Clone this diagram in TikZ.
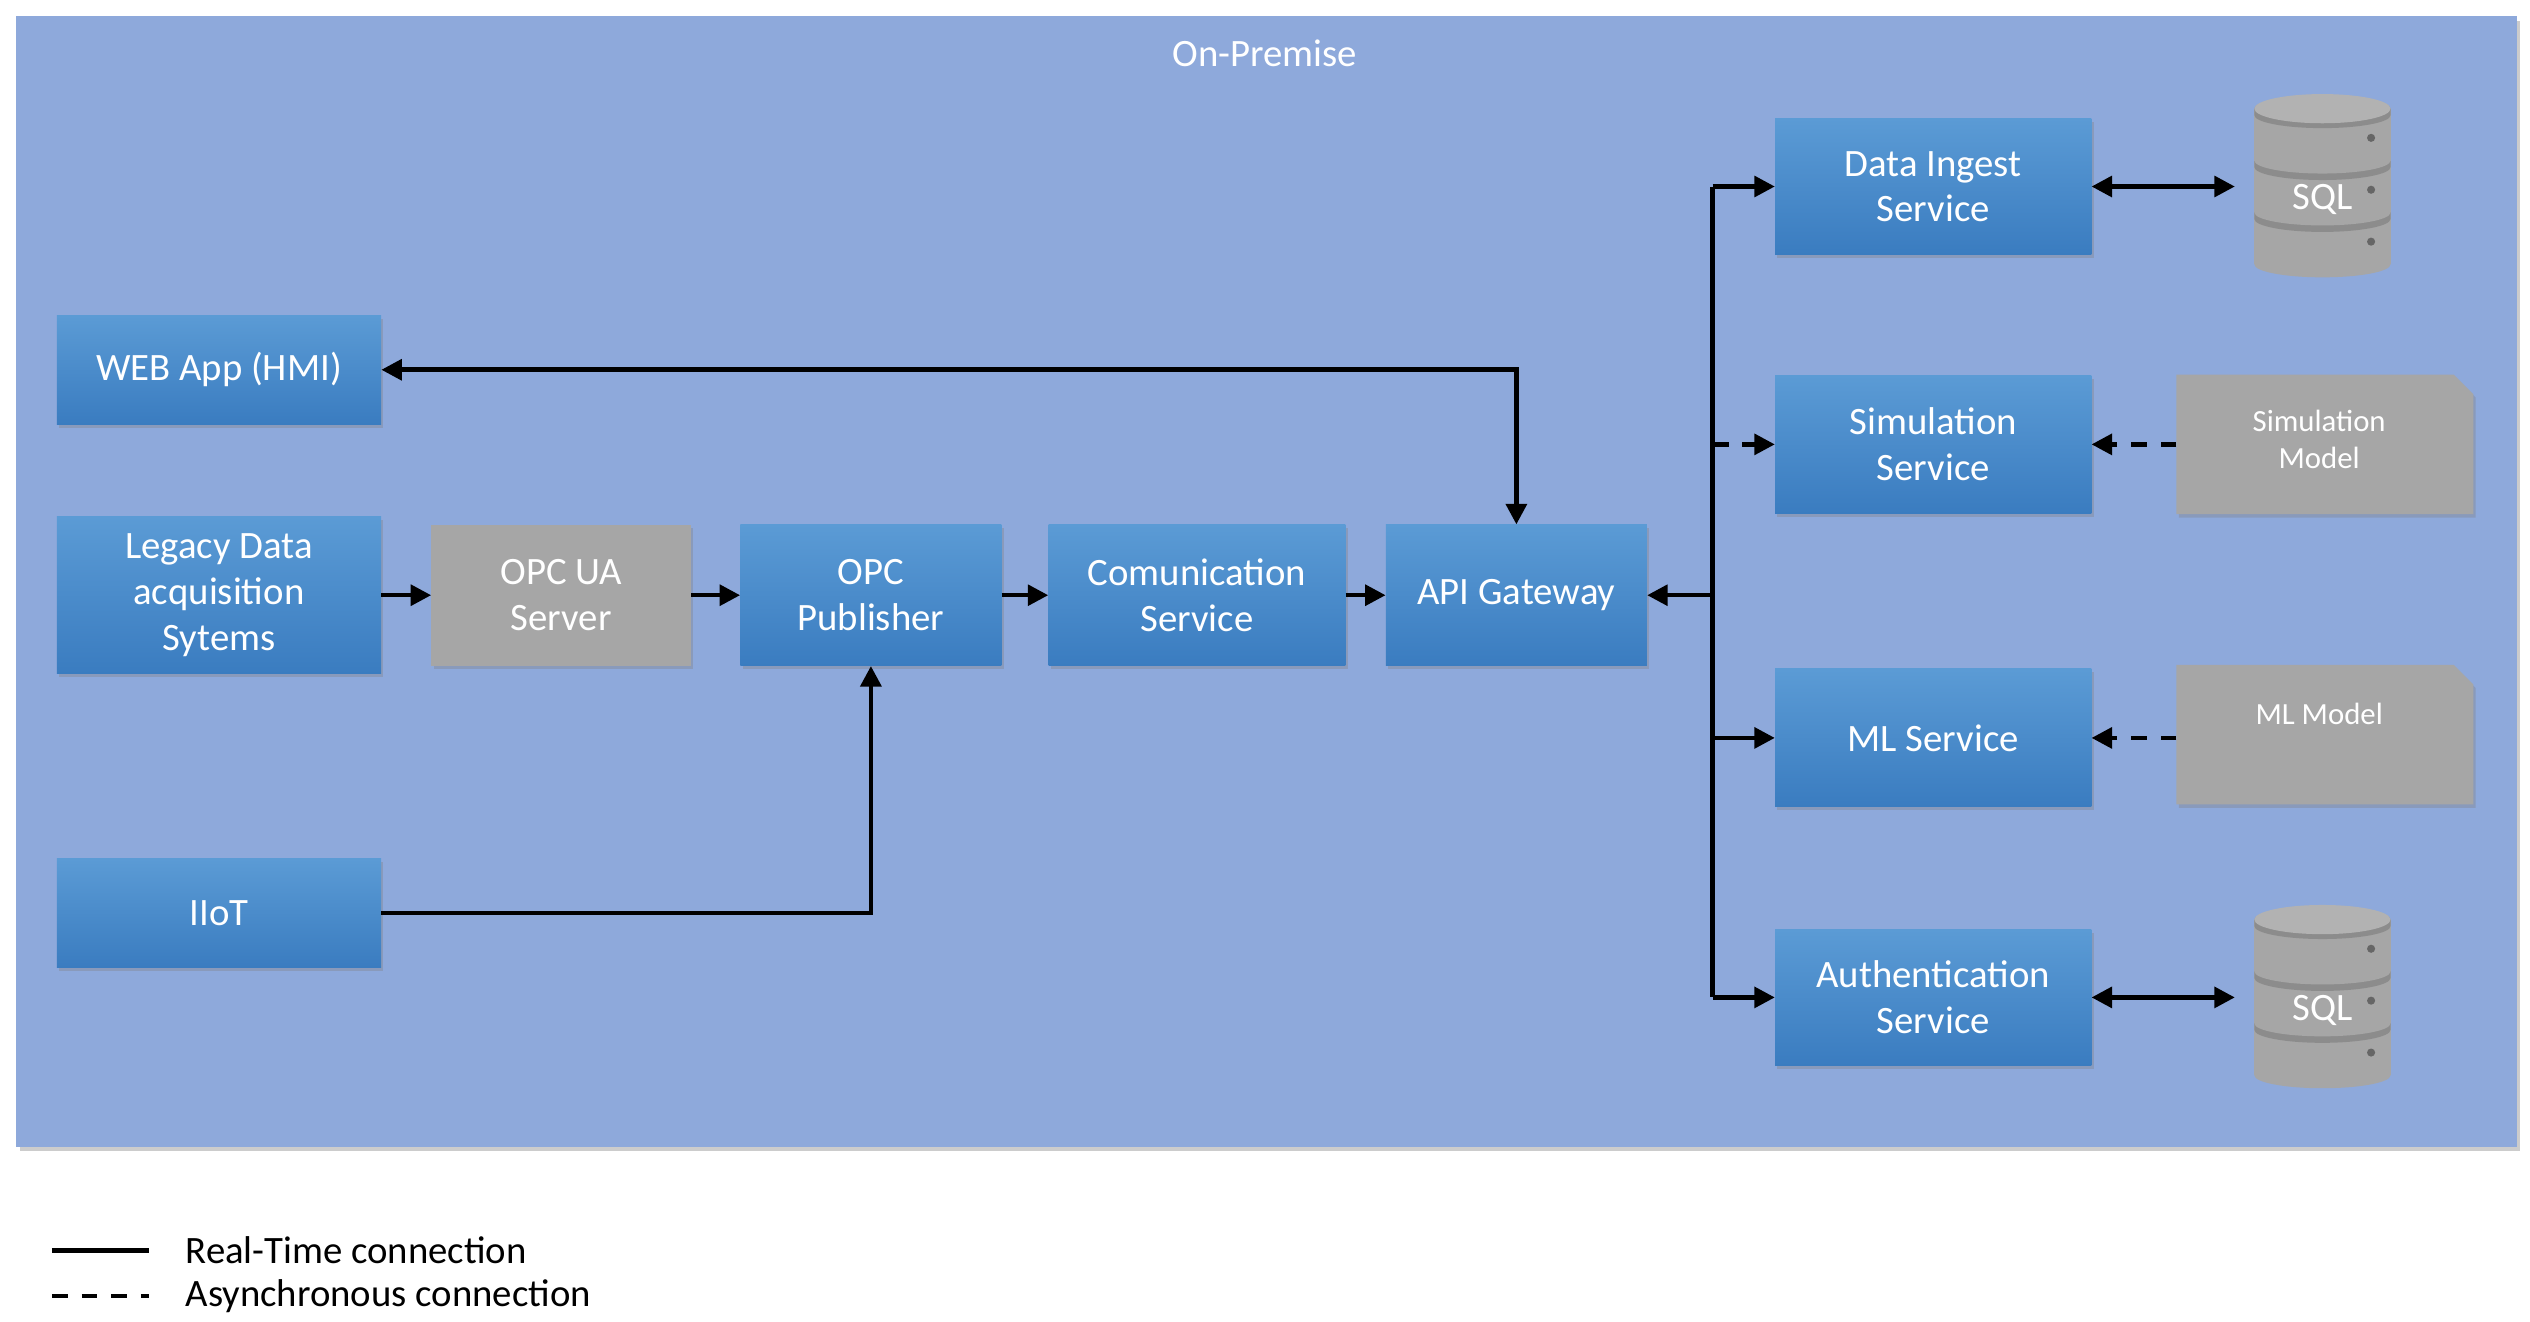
\documentclass[tikz,border=0pt]{standalone}
\usepackage{fontspec}
\setmainfont{Carlito}
\usetikzlibrary{arrows.meta,shapes.geometric,shadows}
\definecolor{bg}{HTML}{8EA9DB}
\definecolor{bt}{HTML}{5B9BD5}
\definecolor{bb}{HTML}{3A7CC0}
\definecolor{gr}{HTML}{A6A6A6}
\begin{document}
\begin{tikzpicture}[x=0.05cm,y=-0.05cm,
 txt/.style={font=\fontsize{34}{40}\selectfont,text=white,align=center},
 stxt/.style={font=\fontsize{27}{33}\selectfont,text=white,align=center},
 blue/.style={txt,draw=none,top color=bt,bottom color=bb,drop shadow={opacity=0.35,shadow xshift=2pt,shadow yshift=-3pt},inner sep=0},
 gray/.style={txt,fill=gr,drop shadow={opacity=0.35,shadow xshift=2pt,shadow yshift=-3pt},inner sep=0},
 tip/.tip={Triangle[length=18pt,width=18pt]},
 ar/.style={line width=4pt,-tip},
 dar/.style={ar,dash pattern=on 14pt off 12pt},
 ln/.style={line width=4pt}]
\useasboundingbox (0,0) rectangle (1560,815);
\fill[white] (0,0) rectangle (1560,815);
\fill[bg,drop shadow={opacity=0.4,shadow xshift=3pt,shadow yshift=-4pt}] (10,10) rectangle (1552,707);
\node[txt] (title) at (780,33) {On-Premise};
\newcommand{\mybx}[6]{\node[#1,minimum width=#4*0.05cm,minimum height=#5*0.05cm] (#6) at (#2,#3) {};}
\mybx{blue}{135}{228}{200}{67}{web}\node[txt] at (web) {WEB App (HMI)};
\mybx{blue}{135}{367}{200}{97}{leg}\node[txt] at (leg) {Legacy Data\\acquisition\\Sytems};
\mybx{gray}{346}{367}{160}{87}{opcua}\node[txt] at (opcua) {OPC UA\\Server};
\mybx{blue}{537}{367}{161}{87}{pub}\node[txt] at (pub) {OPC\\Publisher};
\mybx{blue}{738}{367}{183}{87}{com}\node[txt] at (com) {Comunication\\Service};
\mybx{blue}{935}{367}{161}{87}{api}\node[txt] at (api) {API Gateway};
\mybx{blue}{135}{563}{200}{67}{iiot}\node[txt] at (iiot) {IIoT};
\mybx{blue}{1192}{115}{195}{84}{ing}\node[txt] at (ing) {Data Ingest\\Service};
\mybx{blue}{1192}{274}{195}{85}{sim}\node[txt] at (sim) {Simulation\\Service};
\mybx{blue}{1192}{455}{195}{85}{ml}\node[txt] at (ml) {ML Service};
\mybx{blue}{1192}{615}{195}{84}{auth}\node[txt] at (auth) {Authentication\\Service};
% documents
\fill[gr,drop shadow={opacity=0.35,shadow xshift=2pt,shadow yshift=-3pt}] (1342,231) -- (1513,231) -- (1525,243) -- (1525,317) -- (1342,317) -- cycle;
\fill[gr,drop shadow={opacity=0.35,shadow xshift=2pt,shadow yshift=-3pt}] (1342,410) -- (1513,410) -- (1525,422) -- (1525,496) -- (1342,496) -- cycle;
\coordinate (smod) at (1342,274);
\coordinate (mmod) at (1342,455);
\node[stxt] (smodt) at (1430,271) {Simulation\\Model};
\node[stxt] (mmodt) at (1430,440) {ML Model};
% databases
\newcommand{\mydb}[2]{
 \begin{scope}[shift={(1432,#1)}]
 \foreach \yy in {32,0,-32}{
  \fill[gray!70] (-42,\yy-16) rectangle (42,\yy+16);
  \fill[gray!70] (0,\yy+16) ellipse[x radius=42, y radius=8];
  \fill[black!45] (-42,\yy-16) arc[start angle=180,end angle=360,x radius=42,y radius=8] -- (42,\yy-12) arc[start angle=0,end angle=180,x radius=42,y radius=8] -- cycle;
  \fill[black!60] (30,\yy+2) circle (2.5);}
 \fill[gray!60] (0,-48) ellipse[x radius=42,y radius=9];
 \node[txt] (#2) at (0,8) {SQL};
 \end{scope}}
\mydb{115}{sqla}
\mydb{615}{sqlb}
\coordinate (sqlaw) at (1378,115);
\coordinate (sqlbw) at (1378,615);
% connectors
\draw[ar] (leg) -- (opcua);
\draw[ar] (opcua) -- (pub);
\draw[ar] (pub) -- (com);
\draw[ar] (com) -- (api);
\draw[ar] (iiot.east) -| (pub.south);
\draw[ln,tip-tip] (web.east) -| (api.north);
\coordinate (bt) at (1056,115);
\coordinate (bb) at (1056,615);
\draw[ln] (bt) -- (bb);
\draw[ar] (1056,367) -- (api.east);
\draw[ar] (bt) -- (ing.west);
\draw[dar] (1056,274) -- (sim.west);
\draw[ar] (1056,455) -- (ml.west);
\draw[ar] (bb) -- (auth.west);
\draw[ln,tip-tip] (ing.east) -- (sqlaw);
\draw[ln,tip-tip] (auth.east) -- (sqlbw);
\draw[dar] (smod) -- (sim.east);
\draw[dar] (mmod) -- (ml.east);
% legend
\coordinate (l1a) at (32,771); \coordinate (l1b) at (92,771);
\coordinate (l2a) at (32,799); \coordinate (l2b) at (92,799);
\draw[ln] (l1a) -- (l1b);
\draw[ln,dash pattern=on 14pt off 12pt] (l2a) -- (l2b);
\node[anchor=west,font=\fontsize{34}{40}\selectfont] (lg1) at (112,771) {Real-Time connection};
\node[anchor=west,font=\fontsize{34}{40}\selectfont] (lg2) at (112,799) {Asynchronous connection};
\end{tikzpicture}
\end{document}
